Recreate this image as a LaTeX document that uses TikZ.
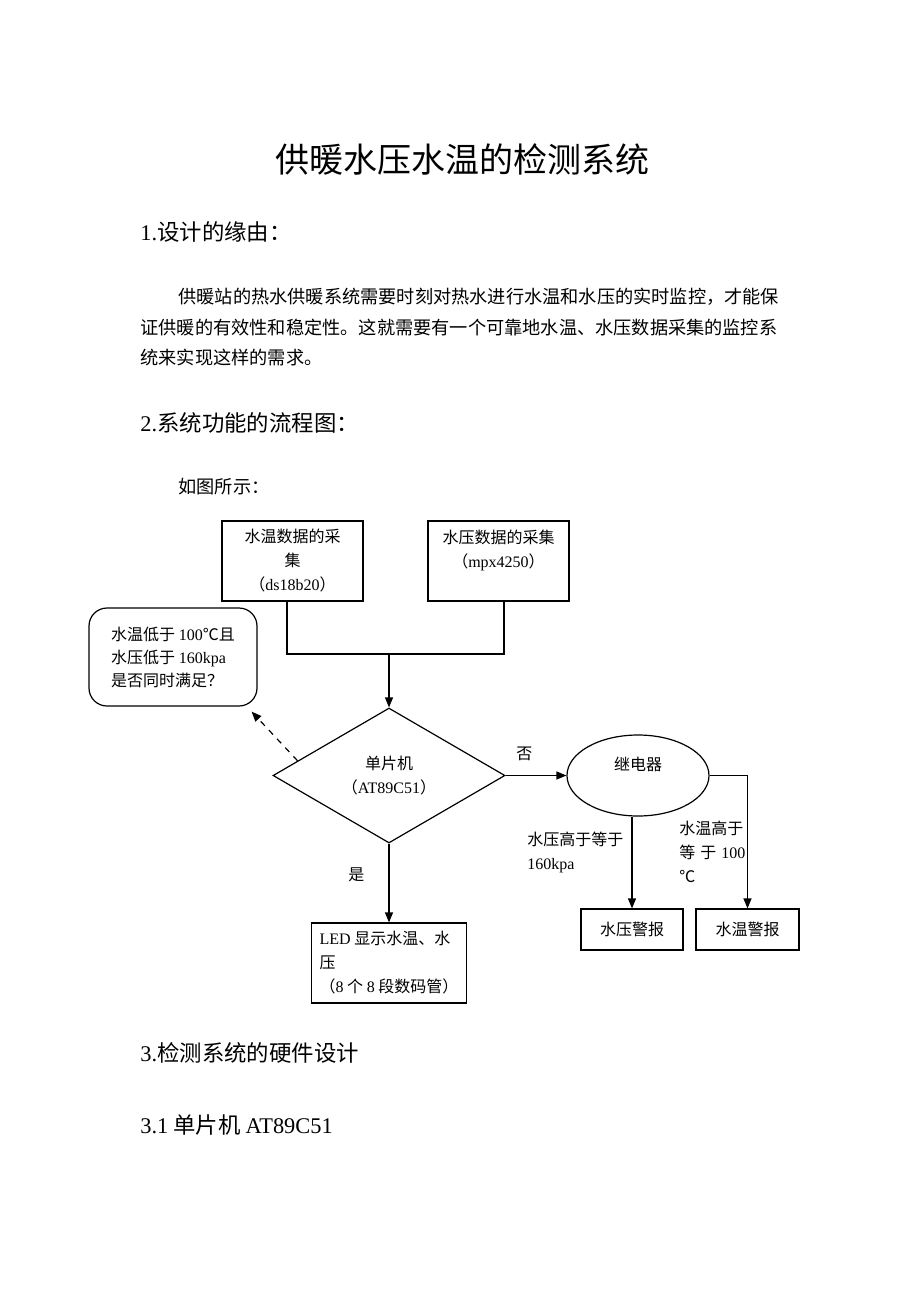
\documentclass[tikz,border=0pt]{standalone}
\usepackage{fontspec}
\setmainfont{Noto Sans CJK SC}
\newfontfamily\lat{Liberation Serif}
\usetikzlibrary{shapes.geometric,arrows.meta,positioning,calc}
\newcommand\flowfont{\fontsize{8}{12}\selectfont}
\newcommand\bodyfont{\fontsize{9.1}{15}\selectfont}
\newcommand\headfont{\fontsize{11.2}{14}\selectfont}
\tikzset{
  box/.style={draw, line width=0.6pt, align=center, inner sep=0pt, font=\flowfont},
  txt/.style={anchor=west, inner sep=0pt},
  arrow/.style={-{Triangle[length=5pt,width=4pt]}, line width=0.6pt},
}

\begin{document}
\begin{tikzpicture}[x=0.5pt, y=-0.5pt]
\useasboundingbox (0,0) rectangle (920,1302);
\node[font=\fontsize{17}{22}\selectfont] (title) at (462,160) {供暖水压水温的检测系统};
\node[txt, font=\headfont] (sec1) at (140,232) {{\lat 1.}设计的缘由：};
\node[txt, font=\bodyfont] (par1) at (178,297) {供暖站的热水供暖系统需要时刻对热水进行水温和水压的实时监控，才能保};
\node[txt, font=\bodyfont] (par2) at (140,328) {证供暖的有效性和稳定性。这就需要有一个可靠地水温、水压数据采集的监控系};
\node[txt, font=\bodyfont] (par3) at (140,358) {统来实现这样的需求。};
\node[txt, font=\headfont] (sec2) at (140,423) {{\lat 2.}系统功能的流程图：};
\node[txt, font=\bodyfont] (intro) at (178,487) {如图所示：};

\node[box, minimum width=70.5pt, minimum height=40pt] (tin) at (292.5,561) {水温数据的采\\集\\（{\lat ds18b20}）};
\node[box, minimum width=70.5pt, minimum height=40pt] (pin) at (498.5,561) {水压数据的采集\\（{\lat mpx4250}）\\\mbox{}};
\node[box, rounded corners=9pt, align=left, minimum width=84pt, minimum height=49pt, font=\fontsize{8}{11.5}\selectfont] (cond) at (173,657) {水温低于 {\lat 100}℃且\\水压低于 {\lat 160kpa}\\是否同时满足？};
\node[box, diamond, minimum width=116pt, minimum height=67.5pt] (mcu) at (389,775.5) {单片机\\（{\lat AT89C51}）};
\node[box, ellipse, minimum width=71pt, minimum height=40.5pt] (relay) at (638,775.5) {继电器\\\mbox{}};
\node[box, minimum width=51pt, minimum height=20.5pt] (palarm) at (632,929.5) {水压警报};
\node[box, minimum width=51.5pt, minimum height=20.5pt] (talarm) at (747.5,929.5) {水温警报};
\node[box, align=left, minimum width=77.5pt, minimum height=40pt] (led) at (389,963) {{\lat LED} 显示水温、水\\压\\（{\lat 8} 个 {\lat 8} 段数码管）};
\node[txt, font=\flowfont, align=left] (plbl) at (527,852) {水压高于等于\\{\lat 160kpa}};
\node[txt, font=\flowfont, align=left] (tlbl) at (679,852) {水温高于\\等\hspace{2.5pt}于\hspace{2.5pt}{\lat 100}\\℃};

\coordinate (join) at (389,654);
\draw[line width=0.6pt] ([xshift=-2.75pt]tin.south) |- (join) -| ([xshift=2.75pt]pin.south);
\draw[arrow] (join) -- (mcu.north);
\draw[arrow, dashed] ($(mcu.west)!0.216!(mcu.north)$) -- ([shift={(-3pt,-2.5pt)}]cond.south east);
\draw[arrow] (mcu.east) -- node[pos=0.31, above=7pt, inner sep=0, font=\flowfont] {否} (relay.west);
\draw[arrow] (mcu.south) -- node[pos=0.39, left=12pt, inner sep=0, font=\flowfont] {是} (led.north);
\draw[arrow] (palarm.north |- relay.south) -- (palarm.north);
\draw[arrow] (relay.east) -| (talarm.north);

\node[txt, font=\headfont] (sec3) at (140,1053) {{\lat 3.}检测系统的硬件设计};
\node[txt, font=\headfont] (sec31) at (140,1125) {{\lat 3.1} 单片机 {\lat AT89C51}};
\end{tikzpicture}
\end{document}
